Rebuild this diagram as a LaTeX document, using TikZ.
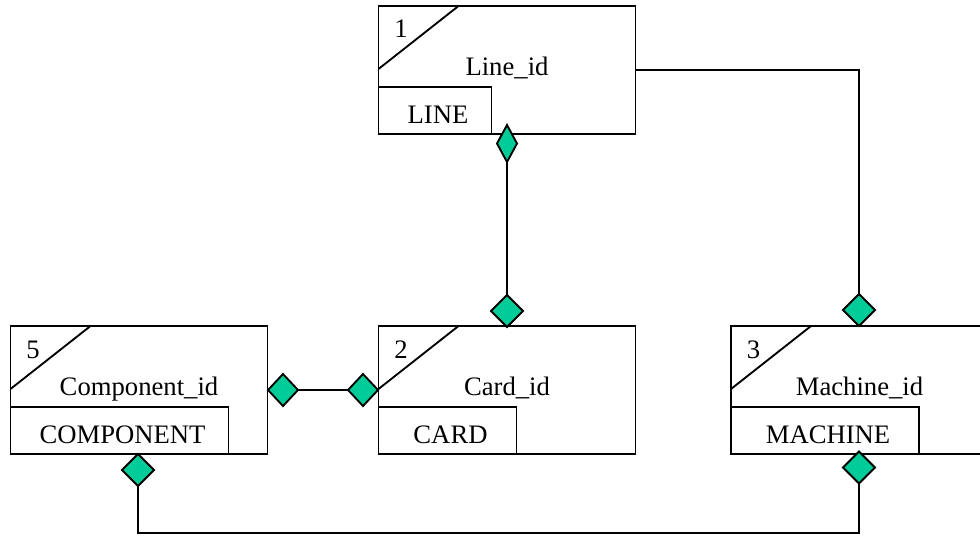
\documentclass[tikz,border=0pt]{standalone}
\usepackage{fontspec}
\setmainfont{Liberation Serif}
\usetikzlibrary{shapes.geometric}
\definecolor{dia}{RGB}{0,204,153}
\tikzset{
  ebox/.style={draw, line width=1.4pt, minimum width=192.75pt, minimum height=96pt, inner sep=0pt, outer sep=0pt},
  dmd/.style={diamond, draw, fill=dia, line width=1.4pt, inner sep=0pt, outer sep=0pt, minimum width=24pt, minimum height=24pt},
  lbl/.style={font=\fontsize{20}{24}\selectfont, inner sep=0pt, anchor=base},
  conn/.style={line width=1.4pt}
}
\newcommand\myentity[6]{%
  \node[ebox] (#1) at (#2) {};
  \draw[conn] ([shift={(80,0)}]#1.north west) -- ([shift={(0,63)}]#1.north west);
  \draw[conn] ([shift={(0,81)}]#1.north west) -| ([shift={(#6,0)}]#1.south west);
  \node[lbl] (#1n) at ([shift={(22.5,32)}]#1.north west) {#3};
  \node[lbl] (#1i) at ([shift={(0,69)}]#1.north) {#4};
  \node[lbl] (#1l) at ([shift={(#6/2+3,-11)}]#1.south west) {#5};
}
\begin{document}
\begin{tikzpicture}[x=0.75pt,y=-0.75pt]
\useasboundingbox (0,0) rectangle (980,535);
\clip (0,0) rectangle (980,535);
\fill[white] (0,0) rectangle (980,535);
\myentity{b1}{507,70}{1}{Line\_id}{LINE}{113}
\myentity{b5}{139,390}{5}{Component\_id}{COMPONENT}{218}
\myentity{b2}{507,390}{2}{Card\_id}{CARD}{138}
\myentity{b3}{859.5,390}{3}{Machine\_id}{MACHINE}{188}
\node[dmd, minimum width=15pt, minimum height=27.75pt] (d1) at (507,143.5) {};
\node[dmd] (d2) at (507,311) {};
\node[dmd] (d3) at (859,310) {};
\node[dmd, minimum width=22.5pt] (d4) at (283,390) {};
\node[dmd, minimum width=22.5pt] (d5) at (363,390) {};
\node[dmd] (d6) at (138,470) {};
\node[dmd] (d7) at (859,467.5) {};
\coordinate (c2) at (859,533);
\draw[conn] (d1.south) -- (d2.north);
\draw[conn] (b1.east) -| (d3.north);
\draw[conn] (d4.east) -- (d5.west);
\draw[conn] (d6.south) |- (c2) -- (d7.south);
\end{tikzpicture}
\end{document}
